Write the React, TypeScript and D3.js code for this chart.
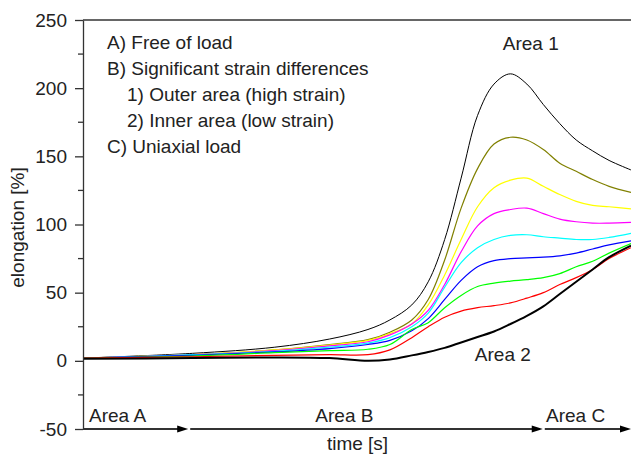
import { useEffect, useRef } from "react";
import * as d3 from "d3";

// time grid (arbitrary units, 0..100 across the axis)
const time = [0, 20, 35, 45, 52, 56, 60, 63, 66, 69, 72, 75, 78, 81, 84, 87, 90, 93, 96, 100];

// elongation [%] per measuring point, top (area 1) to bottom (area 2)
const outerBlack = [2, 5.5, 10, 16, 23, 30, 41, 58, 89, 134, 180, 203, 210.5, 203, 188, 174, 162, 154, 147, 140];
const olive = [2, 4.5, 8, 12, 15.5, 21, 30, 45, 74, 112, 141, 159, 164, 162, 155, 145, 139, 133, 128, 123.5];
const yellow = [2, 4.5, 8, 11.5, 15, 20, 27, 41, 63, 89, 113, 127, 132.5, 134, 128, 122, 117, 114, 113, 111.5];
const magenta = [2, 4.5, 7.5, 11, 14, 19, 27, 37, 56, 80, 99, 108, 111, 112, 108, 104, 102, 101, 101, 101.5];
const cyan = [2, 4.5, 7, 10, 13, 17, 25, 35, 54, 72, 83, 89, 92, 92.5, 91, 90, 89, 89, 90.5, 93.5];
const blue = [2, 4, 6.5, 9, 12, 15, 22, 31, 45, 59, 69, 73.5, 75, 75.5, 76, 77, 79, 82, 85, 88];
const green = [2, 3.5, 6, 7.5, 8.5, 12, 23, 28, 39, 48, 54.5, 57, 58.5, 59.5, 61, 64, 69, 73, 79, 86];
const red = [2, 3, 4, 4.5, 4.5, 8, 17, 25, 32, 36.5, 39, 40.5, 42.5, 46, 50, 56, 61, 67, 75, 83];
const innerBlack = [1.5, 2, 2.5, 2, 0, 1, 4, 6.5, 9.5, 13.5, 17.5, 21.5, 27, 33, 40, 49, 58, 67, 76, 84.5];

const series = [
  { name: "outer", values: outerBlack, color: "#000000", width: 1 },
  { name: "olive", values: olive, color: "#808000", width: 1.2 },
  { name: "yellow", values: yellow, color: "#ffff00", width: 1.2 },
  { name: "magenta", values: magenta, color: "#ff00ff", width: 1.2 },
  { name: "cyan", values: cyan, color: "#00ffff", width: 1.2 },
  { name: "blue", values: blue, color: "#0000ff", width: 1.2 },
  { name: "green", values: green, color: "#00ff00", width: 1.2 },
  { name: "red", values: red, color: "#ff0000", width: 1.2 },
  { name: "inner", values: innerBlack, color: "#000000", width: 2 },
];

const yMajor = [-50, 0, 50, 100, 150, 200, 250];
const yMinor = [-25, 25, 75, 125, 175, 225];

// region boundaries on the time axis (arrow tips)
const areaEnds = [19.2, 83.9, 100];

const annotations = [
  { text: "Area A", t: 1.1, v: -44.9, anchor: "start" },
  { text: "Area B", t: 47.7, v: -44.9, anchor: "middle" },
  { text: "Area C", t: 84.5, v: -44.9, anchor: "start" },
  { text: "Area 1", t: 81.7, v: 228, anchor: "middle" },
  { text: "Area 2", t: 71.5, v: 0, anchor: "start" },
];

const legendLines = [
  { text: "A) Free of load", indent: 0 },
  { text: "B) Significant strain differences", indent: 0 },
  { text: "1) Outer area (high strain)", indent: 1 },
  { text: "2) Inner area (low strain)", indent: 1 },
  { text: "C) Uniaxial load", indent: 0 },
];

const FONT = "'Liberation Sans', Arial, sans-serif";

export default function App() {
  const ref = useRef<SVGSVGElement>(null);

  useEffect(() => {
    if (!ref.current) return;
    const svg = d3.select(ref.current);
    svg.selectAll("*").remove();

    const left = 83;
    const right = 631;
    const top = 20;
    const bottom = 429;

    const x = d3.scaleLinear().domain([0, 100]).range([left, right]);
    const y = d3.scaleLinear().domain([-50, 250]).range([bottom, top]);

    const axisColor = "#333";
    const textColor = "#222";

    // curves
    const line = d3
      .line<number>()
      .x((_, i) => x(time[i]))
      .y((d) => y(d))
      .curve(d3.curveCatmullRom.alpha(0.5));

    svg
      .append("g")
      .selectAll("path")
      .data(series)
      .enter()
      .append("path")
      .attr("d", (d) => line(d.values))
      .attr("fill", "none")
      .attr("stroke", (d) => d.color)
      .attr("stroke-width", (d) => d.width);

    // y axis
    const yAxis = svg.append("g").attr("transform", `translate(${left},0)`);
    yAxis.call(
      d3
        .axisLeft(y)
        .tickValues(yMajor)
        .tickFormat((d) => String(d))
        .tickSize(8)
        .tickSizeOuter(0)
        .tickPadding(8)
    );
    yAxis
      .append("g")
      .selectAll("line")
      .data(yMinor)
      .enter()
      .append("line")
      .attr("x1", -5)
      .attr("x2", 0)
      .attr("y1", (d) => y(d))
      .attr("y2", (d) => y(d))
      .attr("stroke", axisColor);
    yAxis.selectAll("path, line").attr("stroke", axisColor).attr("stroke-width", 1.3);
    yAxis
      .selectAll("text")
      .attr("fill", textColor)
      .style("font-family", FONT)
      .style("font-size", "19px");

    // top frame line
    svg
      .append("line")
      .attr("x1", left)
      .attr("x2", right)
      .attr("y1", y(250))
      .attr("y2", y(250))
      .attr("stroke", axisColor)
      .attr("stroke-width", 1.3);

    // time axis made of arrows
    let start = 0;
    areaEnds.forEach((end) => {
      const x0 = x(start) + (start === 0 ? 0 : 2);
      const tip = x(end);
      svg
        .append("line")
        .attr("x1", x0)
        .attr("x2", tip - 10)
        .attr("y1", y(-50))
        .attr("y2", y(-50))
        .attr("stroke", axisColor)
        .attr("stroke-width", 2);
      svg
        .append("path")
        .attr("d", `M${tip},${y(-50)}L${tip - 11},${y(-50) - 3.5}L${tip - 11},${y(-50) + 3.5}Z`)
        .attr("fill", "#000");
      start = end;
    });

    // annotations
    svg
      .append("g")
      .selectAll("text")
      .data(annotations)
      .enter()
      .append("text")
      .attr("x", (d) => x(d.t))
      .attr("y", (d) => y(d.v))
      .attr("text-anchor", (d) => d.anchor)
      .attr("fill", textColor)
      .style("font-family", FONT)
      .style("font-size", "19px")
      .text((d) => d.text);

    // legend text block
    svg
      .append("g")
      .selectAll("text")
      .data(legendLines)
      .enter()
      .append("text")
      .attr("x", (d) => 107 + d.indent * 20)
      .attr("y", (_, i) => 49 + i * 26)
      .attr("fill", textColor)
      .style("font-family", FONT)
      .style("font-size", "19px")
      .text((d) => d.text);

    // axis titles
    svg
      .append("text")
      .attr("x", (left + right) / 2 + 0.5)
      .attr("y", 450)
      .attr("text-anchor", "middle")
      .attr("fill", textColor)
      .style("font-family", FONT)
      .style("font-size", "19px")
      .text("time [s]");

    svg
      .append("text")
      .attr("transform", `translate(24,${(top + bottom) / 2 + 3}) rotate(-90)`)
      .attr("text-anchor", "middle")
      .attr("fill", textColor)
      .style("font-family", FONT)
      .style("font-size", "19px")
      .text("elongation [%]");
  }, []);

  return (
    <div style={{ position: "absolute", left: 0, top: 0 }}>
      <svg ref={ref} width={631} height={460} style={{ display: "block", background: "#fff" }} />
    </div>
  );
}
